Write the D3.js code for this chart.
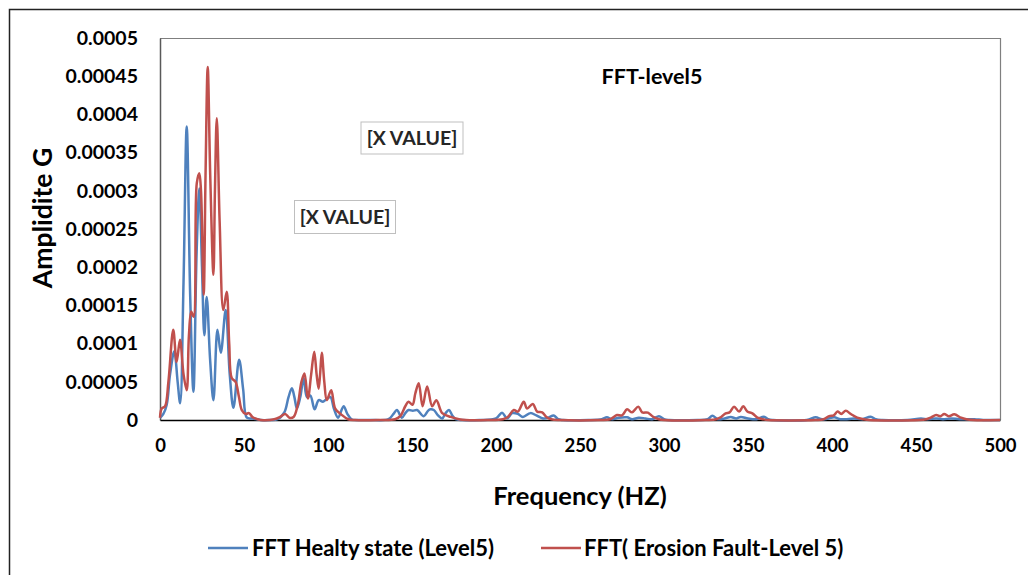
<!DOCTYPE html>
<html>
<head>
<meta charset="utf-8">
<script src="https://cdn.jsdelivr.net/npm/d3@7"></script>
<style>
  html, body { margin: 0; padding: 0; background: #fff; }
  svg { display: block; font-family: Lato, "Open Sans", sans-serif; }
</style>
</head>
<body>
<svg id="chart" width="1028" height="575"></svg>
<script>
// Healthy-state spectrum (frequency in Hz, amplitude in G)
const healthyFreq = [0, 2, 4, 6, 8.5, 10.5, 12, 14, 15.9, 18, 19.9, 21.8, 23.4, 25, 26.4, 27.8, 29.8, 31.8, 34.2, 36.2, 39.1, 41.5, 43.7, 47.1, 49.5, 51.7, 55, 60,
  65, 70, 74, 76.5, 78.5, 80, 81.5, 83.5, 85.5, 87.5, 89.5, 92, 94.5, 97, 99.5, 101.5, 103.5, 106, 109.3, 111.5, 114, 118,
  125, 136, 139, 141, 144, 146, 148, 150.5, 153, 157, 159.5, 161, 163, 165.5, 168, 170, 172, 174, 176, 180,
  190, 200, 203.6, 206.6, 209.6, 213, 216, 220.5, 224, 228, 231, 234.4, 237, 240,
  255, 263, 266, 269, 273, 278, 281, 285, 289, 293, 297, 300, 303,
  320, 326, 328.8, 332, 336, 339.7, 343, 345.7, 350, 355, 359.5, 362, 365,
  385, 390.3, 394, 398, 401.3, 405, 408, 413, 418, 423, 426, 430,
  445, 453, 457, 462, 466, 470.8, 476, 484.7, 490, 500];
const healthyAmp = [0.000003, 0.000008, 0.00002, 0.00006, 0.00009, 0.00005, 0.000022, 0.00018, 0.000384, 0.00016, 0.000037, 0.00022, 0.000303, 0.0002, 0.000111, 0.000161, 0.00008, 0.000026, 0.000118, 0.000088, 0.000144, 0.00006, 0.000016, 0.000079, 0.00004, 0.000003, 0.000002, 0,
  0, 0.000001, 0.00001, 0.00003, 0.0000415, 0.00003, 0.000015, 0.00003, 0.000055, 0.00003, 0.000032, 0.000014, 0.000026, 0.000024, 0.000028, 0.00003, 0.000015, 0.000003, 0.000018, 0.000008, 0.000001, 0,
  0, 0.000001, 0.000008, 0.000013, 0.000003, 0.000009, 0.000013, 0.000012, 0.000013, 0.000005, 0.000012, 0.000014, 0.000013, 0.000006, 0.000002, 0.000009, 0.000013, 0.000006, 0.000001, 0,
  0, 0.000002, 0.0000096, 0.000002, 0.000009, 0.000008, 0.000004, 0.000009, 0.000006, 0.000002, 0.000003, 0.000006, 0.000001, 0,
  0, 0.000001, 0.0000035, 0.000001, 0.000003, 0.0000035, 0.000001, 0.000003, 0.000002, 0.000001, 0.000005, 0.000001, 0,
  0, 0.000001, 0.0000057, 0.000001, 0.000002, 0.000004, 0.000002, 0.000004, 0.000002, 0.000001, 0.0000043, 0.000001, 0,
  0, 0.0000035, 0.000001, 0.000002, 0.0000035, 0.000001, 0.000001, 0.000002, 0.000001, 0.0000043, 0.000001, 0,
  0, 0.000002, 0.000001, 0.000002, 0.000001, 0.000002, 0.000001, 0.000001, 0, 0];

// Erosion-fault spectrum (frequency in Hz, amplitude in G)
const faultFreq = [0, 1, 3, 5, 7.9, 9.9, 11.9, 14, 15.9, 17.2, 18.6, 20, 21.9, 23.4, 24.4, 26, 27.1, 28.4, 29.9, 31.8, 32.7, 33.8, 35.5, 37.7, 39.7, 41.2, 42.7, 45, 47, 48.7, 51, 53, 55, 58, 60,
  68, 71.5, 74.5, 77, 79.5, 82, 84.2, 86, 88, 90, 91.8, 93.2, 94.4, 95.3, 96.3, 97.8, 99.3, 101.9, 104.3, 108, 112, 116,
  130, 140, 143, 146, 147.9, 150.3, 152, 154, 156.3, 159, 162, 164.5, 168, 173, 178, 182,
  195, 204, 207, 210.6, 213, 216.5, 218.5, 221.9, 224.5, 227.5, 230, 233, 238,
  262, 268, 272, 275, 278, 281, 284.7, 287, 290.4, 293.6, 297, 300,
  325, 331, 334, 336.7, 339, 341.7, 344.7, 347.2, 349.6, 352.6, 355.6, 359, 362,
  390, 395, 398.3, 401, 403.3, 405.5, 408.2, 411.2, 415, 419, 422,
  452, 456, 459, 462, 464.5, 466.8, 469.5, 472.8, 476.8, 480, 484, 500];
const faultAmp = [0.000003, 0.000015, 0.000018, 0.00005, 0.000118, 0.000076, 0.000105, 0.00006, 0.000039, 0.00011, 0.000142, 0.000135, 0.00031, 0.000323, 0.0003, 0.000164, 0.00032, 0.000462, 0.00032, 0.00019, 0.0003, 0.000395, 0.00026, 0.000144, 0.000168, 0.0001, 0.000055, 0.00005, 0.00003, 0.000013, 0.000008, 0.000009, 0.000004, 0.000001, 0,
  0.000001, 0.000004, 0.000008, 0.000003, 0.000004, 0.00002, 0.00005, 0.000061, 0.000028, 0.00006, 0.0000894, 0.00006, 0.000041, 0.00006, 0.000088, 0.00005, 0.000026, 0.000039, 0.000015, 0.000007, 0.000001, 0,
  0, 0.000001, 0.000005, 0.000018, 0.000024, 0.00002, 0.000035, 0.000048, 0.000018, 0.000044, 0.000018, 0.000026, 0.000009, 0.000004, 0.000001, 0,
  0, 0.000001, 0.000004, 0.000013, 0.000011, 0.000024, 0.000015, 0.000021, 0.000011, 0.00001, 0.000004, 0.000001, 0,
  0, 0.000001, 0.0000065, 0.000006, 0.000014, 0.00001, 0.0000175, 0.00001, 0.0000096, 0.000004, 0.000001, 0,
  0, 0.000001, 0.000004, 0.0000087, 0.00001, 0.0000175, 0.000011, 0.000018, 0.000011, 0.0000087, 0.000003, 0.000001, 0,
  0, 0.000001, 0.000005, 0.000006, 0.000011, 0.000008, 0.000012, 0.0000078, 0.000003, 0.000001, 0,
  0, 0.000001, 0.0000035, 0.0000065, 0.000005, 0.0000078, 0.000005, 0.0000074, 0.000003, 0.000001, 0, 0];

const xTicks = [0, 50, 100, 150, 200, 250, 300, 350, 400, 450, 500];
const yTicks = [0, 0.00005, 0.0001, 0.00015, 0.0002, 0.00025, 0.0003, 0.00035, 0.0004, 0.00045, 0.0005];
const yTickLabels = ["0", "0.00005", "0.0001", "0.00015", "0.0002", "0.00025", "0.0003", "0.00035", "0.0004", "0.00045", "0.0005"];

const seriesNames = ["FFT Healty state (Level5)", "FFT( Erosion Fault-Level 5)"];
const seriesColors = ["#4F81BD", "#C0504D"];
const annotationTexts = ["[X VALUE]", "[X VALUE]"];
const chartTitle = "FFT-level5";

const svg = d3.select("#chart");
const plot = { left: 160, right: 1000, top: 38, bottom: 420 };

const x = d3.scaleLinear().domain([0, 500]).range([plot.left, plot.right]);
const y = d3.scaleLinear().domain([0, 0.0005]).range([plot.bottom, plot.top]);

// Outer chart frame
svg.append("rect")
  .attr("x", 9.5).attr("y", 9.5)
  .attr("width", 1100).attr("height", 700)
  .attr("fill", "none").attr("stroke", "#222").attr("stroke-width", 1.5);

// Plot area frame (top and right edges)
svg.append("path")
  .attr("d", `M${plot.left},${plot.top + 0.5}H${plot.right + 0.5}V${plot.bottom}`)
  .attr("fill", "none").attr("stroke", "#7f7f7f").attr("stroke-width", 1.2);

// Y axis
const yAxis = d3.axisLeft(y).tickValues(yTicks)
  .tickFormat((d, i) => yTickLabels[i]).tickSize(0).tickPadding(22);
const gy = svg.append("g").attr("transform", `translate(${plot.left},0)`).call(yAxis);
gy.select(".domain").attr("stroke", "#595959").attr("stroke-width", 1.5);
gy.selectAll("text").attr("font-size", 19.5).attr("font-weight", 700).attr("fill", "#000")
  .attr("font-family", "Lato, sans-serif");

// X axis
const xAxis = d3.axisBottom(x).tickValues(xTicks).tickFormat(d3.format("d")).tickSize(0).tickPadding(19);
const gx = svg.append("g").attr("transform", `translate(0,${plot.bottom})`).call(xAxis);
gx.select(".domain").attr("stroke", "#000").attr("stroke-width", 1.5);
gx.selectAll("text").attr("font-size", 18.5).attr("font-weight", 700).attr("fill", "#000")
  .attr("font-family", "Lato, sans-serif");

// Axis titles
svg.append("text")
  .attr("transform", "translate(52,218) rotate(-90)")
  .attr("text-anchor", "middle")
  .attr("font-size", 26.5).attr("font-weight", 700)
  .text("Amplidite G");

svg.append("text")
  .attr("x", 580).attr("y", 505)
  .attr("text-anchor", "middle")
  .attr("font-size", 25.5).attr("font-weight", 700)
  .text("Frequency (HZ)");

// Chart title inside plot
svg.append("text")
  .attr("x", 652).attr("y", 84)
  .attr("text-anchor", "middle")
  .attr("font-size", 21.5).attr("font-weight", 700)
  .text(chartTitle);

// Spectrum lines
const line = d3.line()
  .x(d => x(d[0]))
  .y(d => y(d[1]))
  .curve(d3.curveCatmullRom.alpha(0.5));

const series = [
  d3.zip(healthyFreq, healthyAmp),
  d3.zip(faultFreq, faultAmp)
];

series.forEach((pts, i) => {
  svg.append("path")
    .datum(pts)
    .attr("d", line)
    .attr("fill", "none")
    .attr("stroke", seriesColors[i])
    .attr("stroke-width", 2.5)
    .attr("stroke-linejoin", "round");
});

// Annotation boxes
const annotations = [
  { cx: 412, cy: 138, w: 102, h: 32 },
  { cx: 345, cy: 217, w: 101, h: 33 }
];
annotations.forEach((a, i) => {
  svg.append("rect")
    .attr("x", a.cx - a.w / 2).attr("y", a.cy - a.h / 2)
    .attr("width", a.w).attr("height", a.h)
    .attr("fill", "#fff").attr("stroke", "#bfbfbf").attr("stroke-width", 1);
  svg.append("text")
    .attr("x", a.cx).attr("y", a.cy)
    .attr("dy", "0.35em")
    .attr("text-anchor", "middle")
    .attr("font-size", 19.5).attr("font-weight", 700)
    .attr("fill", "#262626")
    .text(annotationTexts[i]);
});

// Legend
const legendItems = [
  { x1: 208, x2: 248, tx: 252 },
  { x1: 541, x2: 581, tx: 584 }
];
legendItems.forEach((l, i) => {
  const ly = 548;
  svg.append("line")
    .attr("x1", l.x1).attr("x2", l.x2).attr("y1", ly).attr("y2", ly)
    .attr("stroke", seriesColors[i]).attr("stroke-width", 2.5);
  svg.append("text")
    .attr("x", l.tx).attr("y", ly).attr("dy", "0.35em")
    .attr("font-size", 22).attr("font-weight", 700)
    .text(seriesNames[i]);
});
</script>
</body>
</html>
